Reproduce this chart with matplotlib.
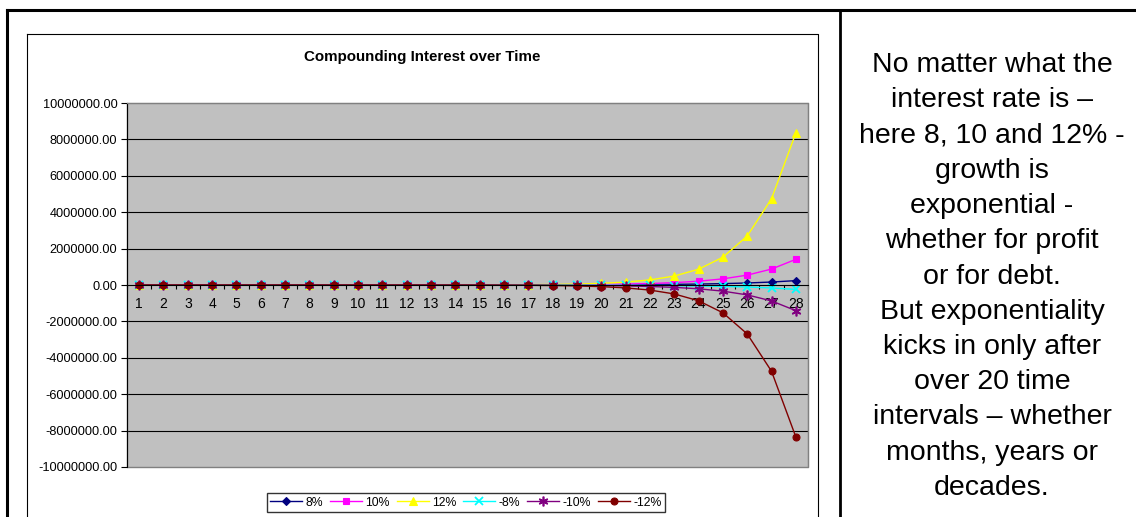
import matplotlib.pyplot as plt
from matplotlib.lines import Line2D
from matplotlib.patches import Rectangle

plt.rcParams["font.family"] = ["Liberation Sans", "DejaVu Sans"]

# ---- DATA ---- #
periods = list(range(1, 29))

rate_8 = [7, 11, 16, 24, 35, 51, 75, 110, 160, 240, 350, 510, 750, 1100, 1600, 2400,
          3500, 5100, 7500, 11100, 16300, 24000, 35000, 51500, 76000, 111000, 163000, 240000]
rate_10 = [4, 6, 9, 15, 24, 39, 63, 101, 163, 260, 420, 680, 1100, 1770, 2850, 4600,
           7400, 12000, 19300, 31000, 50000, 81000, 130000, 209000, 337000, 543000, 875000, 1410000]
rate_12 = [2, 3, 6, 10, 18, 32, 57, 100, 180, 310, 550, 970, 1700, 3000, 5300, 9400,
           16500, 29000, 51000, 90000, 158000, 279000, 491000, 866000, 1526000, 2689000, 4738000, 8350000]
rate_m8 = [-7, -11, -16, -24, -35, -51, -75, -110, -160, -240, -350, -510, -750, -1100, -1600, -2400,
           -3500, -5100, -7500, -11100, -16300, -24000, -35000, -51500, -76000, -111000, -163000, -240000]
rate_m10 = [-4, -6, -9, -15, -24, -39, -63, -101, -163, -260, -420, -680, -1100, -1770, -2850, -4600,
            -7400, -12000, -19300, -31000, -50000, -81000, -130000, -209000, -337000, -543000, -875000, -1410000]
rate_m12 = [-2, -3, -6, -10, -18, -32, -57, -100, -180, -310, -550, -970, -1700, -3000, -5300, -9400,
            -16500, -29000, -51000, -90000, -158000, -279000, -491000, -866000, -1526000, -2689000, -4738000, -8350000]

series_labels = ["8%", "10%", "12%", "-8%", "-10%", "-12%"]
y_ticks = [-10000000, -8000000, -6000000, -4000000, -2000000, 0,
           2000000, 4000000, 6000000, 8000000, 10000000]

note_lines = [
    "No matter what the",
    "interest rate is \u2013",
    "here 8, 10 and 12% -",
    "growth is",
    "exponential -",
    "whether for profit",
    "or for debt.",
    "But exponentiality",
    "kicks in only after",
    "over 20 time",
    "intervals \u2013 whether",
    "months, years or",
    "decades.",
]

# ---- FIGURE ---- #
W, H = 1136, 517
fig = plt.figure(figsize=(W / 100, H / 100), dpi=100)


def fx(x):
    return x / W


def fy(y):
    return 1 - y / H


# page borders (table cell lines)
fig.add_artist(Line2D([fx(7), fx(1136)], [fy(10), fy(10)], color="black", lw=2.2))
fig.add_artist(Line2D([fx(7), fx(7)], [fy(10), fy(517)], color="black", lw=2.2))
fig.add_artist(Line2D([fx(840), fx(840)], [fy(10), fy(517)], color="black", lw=2.0))
# chart box
fig.add_artist(Line2D([fx(27), fx(818), fx(818)], [fy(34), fy(34), fy(517)], color="black", lw=0.8))
fig.add_artist(Line2D([fx(27), fx(27)], [fy(34), fy(517)], color="black", lw=0.8))

ax = fig.add_axes([fx(127), fy(467), fx(808) - fx(127), (467 - 103) / H])
ax.set_facecolor("#C0C0C0")

styles = [
    dict(color="#000080", marker="D", ms=4.5),
    dict(color="#FF00FF", marker="s", ms=5),
    dict(color="#FFFF00", marker="^", ms=6),
    dict(color="#00FFFF", marker="x", ms=6, mew=1.3),
    dict(color="#800080", marker=(6, 2, 0), ms=7, mew=1.2),
    dict(color="#800000", marker="o", ms=5),
]
for vals, lab, st in zip([rate_8, rate_10, rate_12, rate_m8, rate_m10, rate_m12], series_labels, styles):
    ax.plot(periods, vals, color=st["color"], marker=st["marker"], markersize=st["ms"],
            markerfacecolor=st["color"], markeredgecolor=st["color"],
            markeredgewidth=st.get("mew", 0.8), lw=1.0, label=lab)

ax.set_xlim(0.5, 28.5)
ax.set_ylim(-10000000, 10000000)
ax.set_yticks(y_ticks)
ax.set_yticklabels([f"{v:.2f}" for v in y_ticks], fontsize=9.2)
ax.tick_params(axis="y", direction="out", length=4, width=0.8, pad=3, color="black")

ax.set_xticks(periods)
ax.set_xticklabels([str(p) for p in periods], fontsize=9.2)
ax.set_xticks([p + 0.5 for p in range(0, 29)], minor=True)
ax.tick_params(axis="x", which="major", length=0, pad=8.5)
ax.tick_params(axis="x", which="minor", direction="out", length=3, width=0.8, color="black")

for v in y_ticks:
    if v not in (0, 10000000, -10000000):
        ax.axhline(v, color="black", lw=0.8, zorder=0.5)

for s in ["top", "right"]:
    ax.spines[s].set_color("#808080")
ax.spines["left"].set_color("black")
ax.spines["bottom"].set_position(("data", 0))
ax.spines["bottom"].set_color("black")
ax.add_patch(Rectangle((0, 0), 1, 1, transform=ax.transAxes, fill=False,
                       edgecolor="#808080", lw=1.0, clip_on=False, zorder=0.6))

fig.text(fx(422), fy(57), "Compounding Interest over Time", ha="center", va="center",
         fontsize=10.9, fontweight="bold")

handles, labels = ax.get_legend_handles_labels()
fig.legend(handles, labels, loc="center", bbox_to_anchor=(fx(466), fy(502.5)), ncol=6,
           fontsize=8.8, frameon=True, fancybox=False, edgecolor="black",
           handlelength=2.6, handletextpad=0.3, columnspacing=0.55, borderpad=0.3)

# ---- NOTE TEXT ---- #
top_base, bottom_base = 72, 495
step = (bottom_base - top_base) / (len(note_lines) - 1)
for i, line in enumerate(note_lines):
    fig.text(fx(992), fy(top_base + i * step), line, ha="center", va="baseline", fontsize=20.5)

plt.savefig("out.png", dpi=100)
